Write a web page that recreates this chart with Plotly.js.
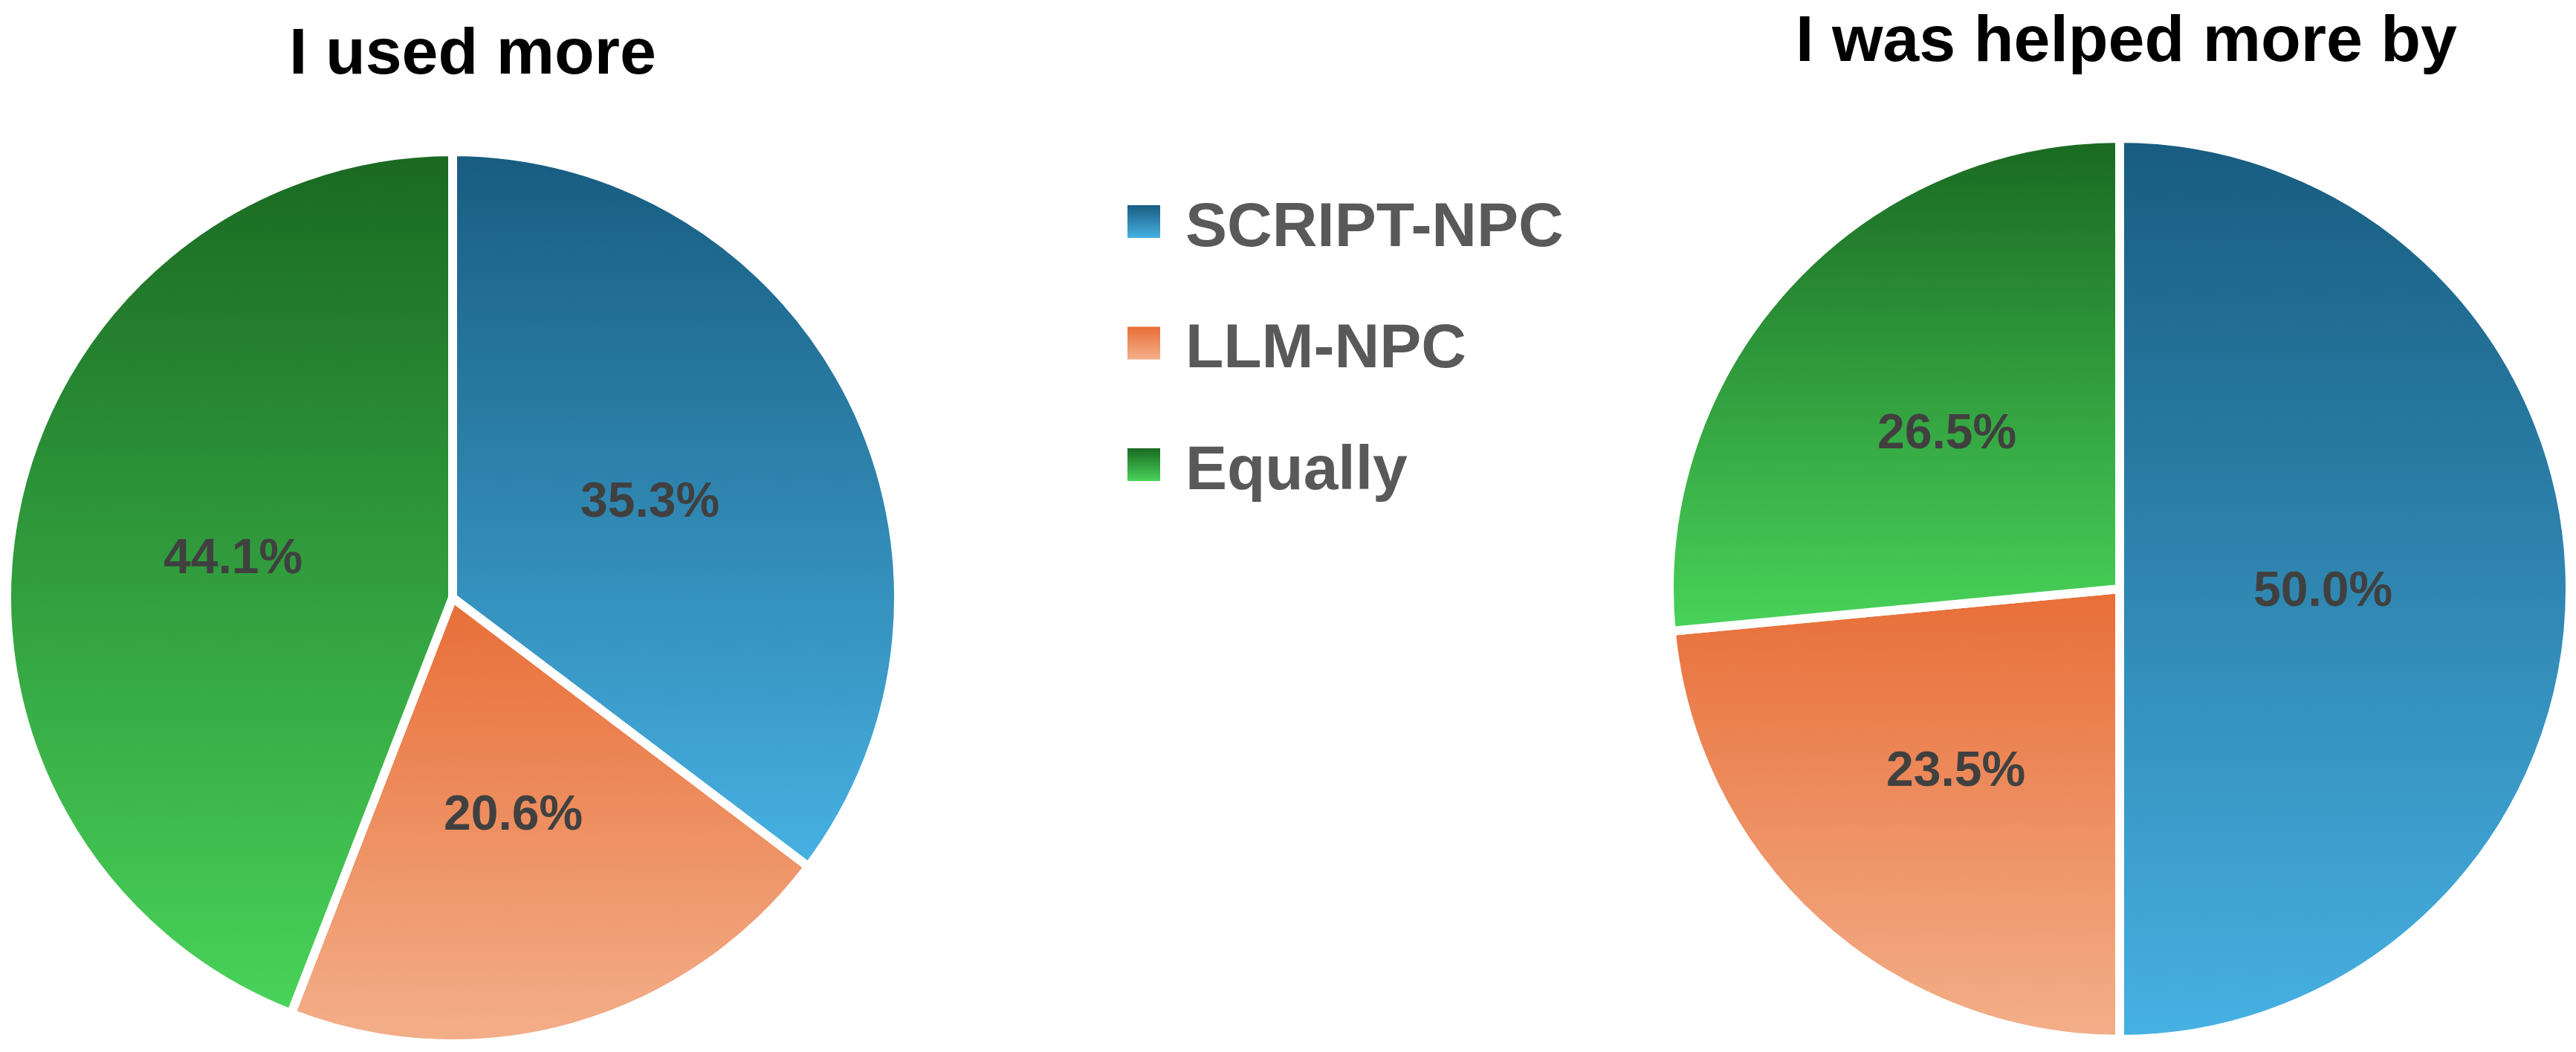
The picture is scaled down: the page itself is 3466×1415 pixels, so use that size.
<!DOCTYPE html>
<html><head><meta charset="utf-8">
<script src="https://cdn.plot.ly/plotly-3.0.1.min.js"></script>
<style>html,body{margin:0;padding:0;background:#fff}</style>
</head><body><div id="chart" style="width:3466px;height:1415px"></div>
<script>
// ---- data ----
const categories = ['SCRIPT-NPC', 'LLM-NPC', 'Equally'];
const usedMore = [35.3, 20.6, 44.1];
const helpedMore = [50.0, 23.5, 26.5];
const chartTitles = ['I used more', 'I was helped more by'];

// ---- styles / layout params ----
const W = 3466, H = 1415;
const grads = [
  {id: 'gBlue',   top: '#185C80', bottom: '#47B1E3', mid: '#2F88B5'},
  {id: 'gOrange', top: '#E86E37', bottom: '#F3AF8A', mid: '#EE9060'},
  {id: 'gGreen',  top: '#1A6922', bottom: '#49D35A', mid: '#33A040'}
];
// label radial placement (fraction of radius) per slice - style only
const pies = [
  {values: usedMore,   cx: 609,  cy: 804, r: 600, title: chartTitles[0], tx: 636,  ty: 69, labelFrac: [0.50, 0.505, 0.507]},
  {values: helpedMore, cx: 2852, cy: 792, r: 606, title: chartTitles[1], tx: 2861, ty: 52, labelFrac: [0.455, 0.545, 0.525]}
];
const fontFam = 'Liberation Sans, Arial, sans-serif';

const data = pies.map((p, k) => ({
  type: 'pie',
  labels: categories,
  values: p.values,
  sort: false,
  direction: 'clockwise',
  rotation: 0,
  textinfo: 'none',
  hoverinfo: 'none',
  showlegend: k === 0,
  marker: {colors: grads.map(g => g.mid), line: {color: '#ffffff', width: 12}},
  domain: {x: [(p.cx - p.r) / W, (p.cx + p.r) / W], y: [1 - (p.cy + p.r) / H, 1 - (p.cy - p.r) / H]}
}));

const annotations = [];
pies.forEach(p => {
  annotations.push({
    text: p.title, showarrow: false, xref: 'paper', yref: 'paper',
    x: p.tx / W, y: 1 - p.ty / H, xanchor: 'center', yanchor: 'middle',
    font: {family: fontFam, size: 88, color: '#000000', weight: 'bold'}
  });
  const total = p.values.reduce((a, b) => a + b, 0);
  let cum = 0;
  p.values.forEach((v, i) => {
    const mid = (cum + v / 2) / total * 2 * Math.PI;
    cum += v;
    const rv = p.r - 6;
    const px = p.cx + p.labelFrac[i] * rv * Math.sin(mid);
    const py = p.cy - p.labelFrac[i] * rv * Math.cos(mid);
    annotations.push({
      text: (v / total * 100).toFixed(1) + '%', showarrow: false, xref: 'paper', yref: 'paper',
      x: px / W, y: 1 - py / H, xanchor: 'center', yanchor: 'middle',
      font: {family: fontFam, size: 66, color: '#404040', weight: 'bold'}
    });
  });
});

const layout = {
  width: W, height: H,
  margin: {l: 0, r: 0, t: 0, b: 0},
  paper_bgcolor: '#ffffff',
  showlegend: true,
  legend: {
    x: 0.43, y: 0.8, xanchor: 'left', yanchor: 'top',
    bgcolor: 'rgba(0,0,0,0)', borderwidth: 0, itemwidth: 102, traceorder: 'normal',
    font: {family: fontFam, size: 84, color: '#595959', weight: 'bold'}
  },
  annotations: annotations
};

const LX = 1483, LY0 = 298, LDY = 163.5;

Plotly.newPlot('chart', data, layout, {staticPlot: true, displayModeBar: false}).then(gd => {
  const NS = 'http://www.w3.org/2000/svg';
  const defs = gd.querySelector('svg.main-svg defs');
  grads.forEach(g => {
    const lg = document.createElementNS(NS, 'linearGradient');
    lg.setAttribute('id', g.id);
    lg.setAttribute('x1', '0'); lg.setAttribute('y1', '0');
    lg.setAttribute('x2', '0'); lg.setAttribute('y2', '1');
    [[0, g.top], [1, g.bottom]].forEach(([o, c]) => {
      const s = document.createElementNS(NS, 'stop');
      s.setAttribute('offset', o);
      s.setAttribute('stop-color', c);
      lg.appendChild(s);
    });
    defs.appendChild(lg);
  });
  gd.querySelectorAll('.pielayer .trace').forEach(tr => {
    tr.querySelectorAll('g.slice path.surface').forEach((p, idx) => {
      const d = p.__data__;
      const i = (d && d.i != null) ? d.i : idx;
      p.style.fill = 'url(#' + grads[i].id + ')';
    });
  });
  const leg = gd.querySelector('g.legend');
  if (leg) {
    leg.setAttribute('transform', 'translate(0,0)');
    leg.removeAttribute('clip-path');
    const sb = leg.querySelector('.scrollbox');
    if (sb) { sb.setAttribute('transform', 'translate(0,0)'); sb.removeAttribute('clip-path'); }
    leg.querySelectorAll('.traces').forEach((t, i) => {
      t.setAttribute('transform', 'translate(' + LX + ',' + (LY0 + i * LDY) + ')');
      const sym = t.querySelector('.legendpie');
      if (sym) {
        sym.setAttribute('d', 'M22,22H-22V-22H22Z');
        sym.style.fill = 'url(#' + grads[i].id + ')';
        sym.style.strokeWidth = '0';
      }
    });
  }
});
</script>
</body></html>
